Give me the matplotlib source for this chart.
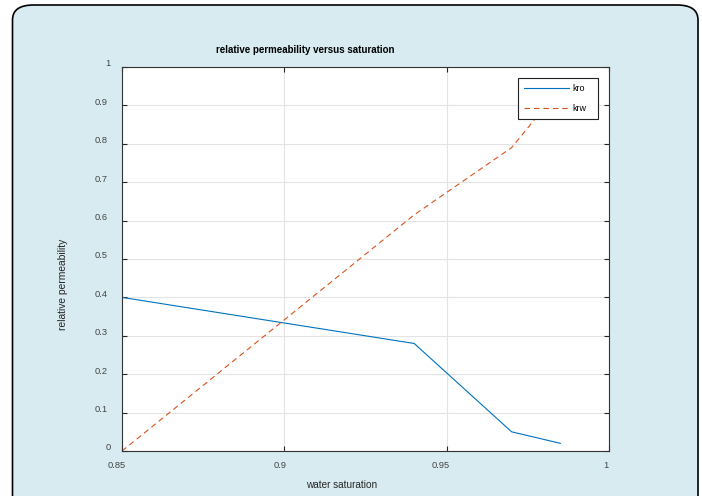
import matplotlib.pyplot as plt
from matplotlib.patches import FancyBboxPatch
from matplotlib.transforms import ScaledTranslation

# saturation / relative permeability table
sw = [0.85, 0.94, 0.97, 0.985]
kro = [0.40, 0.28, 0.05, 0.02]
krw = [0.0, 0.615, 0.79, 0.945]

x_ticks = [0.85, 0.9, 0.95, 1.0]
x_tick_labels = ['0.85', '0.9', '0.95', '1']
y_ticks = [0, 0.1, 0.2, 0.3, 0.4, 0.5, 0.6, 0.7, 0.8, 0.9, 1.0]
y_tick_labels = ['0', '0.1', '0.2', '0.3', '0.4', '0.5', '0.6', '0.7', '0.8', '0.9', '1']

plt.rcParams['font.family'] = ['Liberation Sans', 'DejaVu Sans']

fig = plt.figure(figsize=(7.02, 4.96), dpi=100)
fig.patch.set_facecolor('white')

# rounded panel behind the plot
panel = FancyBboxPatch((12.5 / 702, -0.1), (698 - 12.5) / 702, 1.1 - 5 / 496,
                       boxstyle='round,pad=0,rounding_size=0.03',
                       transform=fig.transFigure, facecolor='#d7ebf0',
                       edgecolor='black', linewidth=1.2, zorder=-5)
fig.patches.append(panel)

ax = fig.add_axes([122 / 702, 1 - 451 / 496, (609 - 122) / 702, (451 - 67) / 496])
ax.set_facecolor('white')

ax.plot(sw, kro, color='#0072BD', linewidth=0.8, label='kro')
ax.plot(sw, krw, color='#D95319', linewidth=0.8, dashes=(5, 3.5), label='krw')

ax.set_xlim(0.85, 1.0)
ax.set_ylim(0, 1)
ax.set_xticks(x_ticks)
ax.set_xticklabels(x_tick_labels)
ax.set_yticks(y_ticks)
ax.set_yticklabels(y_tick_labels)
ax.grid(True, color='#e3e3e3', linewidth=0.8)
ax.set_axisbelow(True)

ax.tick_params(direction='in', length=3.5, width=0.8, top=True, right=True,
               labelsize=6.7, colors='#262626', labelcolor='#444444')
ax.tick_params(axis='x', pad=7)
ax.tick_params(axis='y', pad=6.5)
for side in ax.spines.values():
    side.set_color('#333333')
    side.set_linewidth(0.8)

fig.text(305 / 702, 1 - 50 / 496, 'relative permeability versus saturation',
         ha='center', va='center', fontsize=7, fontweight='bold')
fig.text(342 / 702, 1 - 485 / 496, 'water saturation',
         ha='center', va='center', fontsize=7.2, color='#262626')
fig.text(63 / 702, 1 - 284 / 496, 'relative permeability', rotation=90,
         ha='center', va='center', fontsize=7.4, color='#262626')

leg_box = ((518 - 122) / 487, (451 - 119) / 384, 80 / 487, 41 / 384)
leg = ax.legend(loc='upper left', bbox_to_anchor=leg_box, mode='expand', borderaxespad=0,
                fontsize=6.5, handlelength=5.0, handletextpad=0.35, labelspacing=1.2,
                fancybox=False, edgecolor='#222222', framealpha=1,
                borderpad=0.65)
leg.get_frame().set_linewidth(0.8)

# tick labels drift left/up a bit, more so for the wider ones
fig.canvas.draw()
for lab in ax.get_xticklabels():
    w = lab.get_window_extent().width
    lab.set_transform(lab.get_transform() +
                      ScaledTranslation((-2 - 0.2 * w) / 100, 0, fig.dpi_scale_trans))
for lab in ax.get_yticklabels():
    w = lab.get_window_extent().width
    lab.set_transform(lab.get_transform() +
                      ScaledTranslation(-0.4 * w / 100, 4 / 100, fig.dpi_scale_trans))

fig.savefig('out.png', dpi=100)
